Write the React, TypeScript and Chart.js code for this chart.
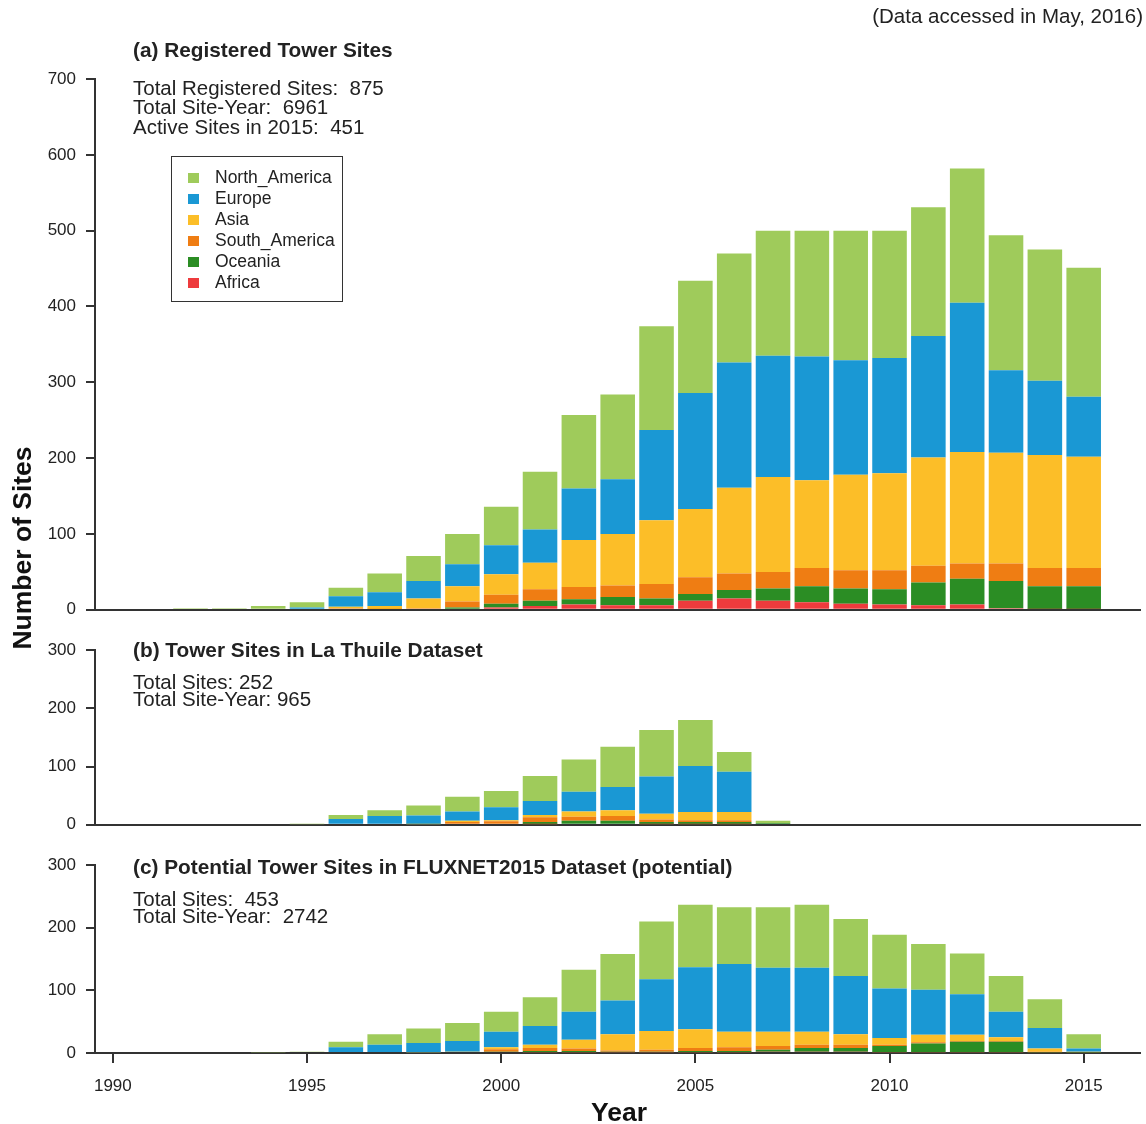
import React, { useEffect, useRef } from "react";
import { Chart, registerables } from "chart.js";

Chart.register(...registerables);

const FONT = '"Liberation Sans", Arial, Helvetica, sans-serif';

const YEARS = [1992, 1993, 1994, 1995, 1996, 1997, 1998, 1999, 2000, 2001, 2002, 2003, 2004, 2005, 2006, 2007, 2008, 2009, 2010, 2011, 2012, 2013, 2014, 2015];
const X_TICKS = [1990, 1995, 2000, 2005, 2010, 2015];
const X_MIN = 1989.54;
const X_MAX = 2016.45;

const REGIONS = ["North_America", "Europe", "Asia", "South_America", "Oceania", "Africa"];
const REGION_COLORS = ["#9fcb5b", "#1a98d4", "#fcbe28", "#ef7d13", "#2b8d24", "#ee3b3d"];

// (a) Registered Tower Sites
const A_NORTH_AMERICA = [2, 2, 5, 7, 11, 25, 33, 40, 51, 76, 97, 112, 137, 148, 144, 165, 166, 171, 168, 170, 177, 178, 173, 170];
const A_EUROPE = [0, 0, 0, 3, 14, 18, 23, 29, 38, 44, 68, 72, 119, 153, 165, 160, 163, 151, 152, 160, 197, 109, 98, 79];
const A_ASIA = [0, 0, 0, 0, 2, 4, 13, 20, 27, 35, 62, 68, 84, 90, 113, 125, 116, 126, 128, 143, 147, 146, 149, 147];
const A_SOUTH_AMERICA = [0, 0, 0, 0, 2, 1, 2, 8, 12, 15, 16, 15, 19, 22, 22, 22, 24, 24, 25, 22, 20, 23, 24, 24];
const A_OCEANIA = [0, 0, 0, 0, 0, 0, 0, 3, 5, 7, 7, 11, 9, 9, 11, 16, 21, 20, 20, 30, 34, 36, 30, 30];
const A_AFRICA = [0, 0, 0, 0, 0, 0, 0, 0, 3, 5, 7, 6, 6, 12, 15, 12, 10, 8, 7, 6, 7, 2, 1, 1];

// (b) Tower Sites in La Thuile Dataset
const B_NORTH_AMERICA = [0, 0, 0, 1, 7, 10, 17, 25, 28, 43, 55, 69, 80, 79, 34, 4, 0, 0, 0, 0, 0, 0, 0, 0];
const B_EUROPE = [0, 0, 0, 0, 10, 15, 15, 16, 22, 24, 34, 40, 64, 79, 69, 0, 0, 0, 0, 0, 0, 0, 0, 0];
const B_ASIA = [0, 0, 0, 0, 0, 0, 1, 2, 2, 4, 9, 10, 10, 14, 14, 0, 0, 0, 0, 0, 0, 0, 0, 0];
const B_SOUTH_AMERICA = [0, 0, 0, 0, 0, 0, 0, 3, 4, 8, 7, 8, 4, 3, 3, 0, 0, 0, 0, 0, 0, 0, 0, 0];
const B_OCEANIA = [0, 0, 0, 0, 0, 0, 0, 2, 2, 4, 5, 5, 4, 4, 4, 3, 0, 0, 0, 0, 0, 0, 0, 0];
const B_AFRICA = [0, 0, 0, 0, 0, 0, 0, 0, 0, 1, 2, 2, 1, 1, 1, 0, 0, 0, 0, 0, 0, 0, 0, 0];

// (c) Potential Tower Sites in FLUXNET2015 Dataset
const C_NORTH_AMERICA = [0, 0, 1, 2, 9, 17, 23, 29, 32, 46, 67, 74, 92, 100, 91, 97, 101, 91, 86, 73, 65, 57, 46, 23];
const C_EUROPE = [0, 0, 0, 0, 9, 13, 15, 17, 25, 30, 45, 54, 83, 99, 108, 102, 102, 93, 79, 72, 65, 41, 33, 5];
const C_ASIA = [0, 0, 0, 0, 0, 0, 1, 2, 3, 5, 14, 26, 30, 30, 25, 23, 21, 17, 11, 12, 10, 6, 5, 1];
const C_SOUTH_AMERICA = [0, 0, 0, 0, 0, 0, 0, 0, 4, 5, 4, 2, 3, 5, 6, 6, 5, 5, 2, 2, 1, 1, 1, 0];
const C_OCEANIA = [0, 0, 0, 0, 0, 0, 0, 0, 2, 2, 2, 1, 1, 2, 2, 3, 6, 6, 10, 14, 17, 17, 1, 1];
const C_AFRICA = [0, 0, 0, 0, 0, 0, 0, 0, 0, 1, 1, 1, 1, 1, 1, 2, 2, 2, 1, 1, 1, 1, 0, 0];

const A_Y_TICKS = [0, 100, 200, 300, 400, 500, 600, 700];
const BC_Y_TICKS = [0, 100, 200, 300];

const A_SERIES = [A_NORTH_AMERICA, A_EUROPE, A_ASIA, A_SOUTH_AMERICA, A_OCEANIA, A_AFRICA];
const B_SERIES = [B_NORTH_AMERICA, B_EUROPE, B_ASIA, B_SOUTH_AMERICA, B_OCEANIA, B_AFRICA];
const C_SERIES = [C_NORTH_AMERICA, C_EUROPE, C_ASIA, C_SOUTH_AMERICA, C_OCEANIA, C_AFRICA];

const AXIS_COLOR = "#333";
const TEXT_COLOR = "#222";

function buildConfig(series: number[][], yTicks: number[], padTop: number, xHeight: number, showX: boolean): any {
  const datasets = REGIONS.map((name, i) => ({
    label: name,
    data: YEARS.map((yr, j) => ({ x: yr, y: series[i][j] })),
    backgroundColor: REGION_COLORS[i],
    borderWidth: 0,
    barPercentage: 0.89,
    categoryPercentage: 1,
  })).reverse();
  return {
    type: "bar",
    data: { datasets },
    options: {
      animation: false,
      responsive: false,
      events: [],
      layout: { padding: { top: padTop, right: 6, left: 0, bottom: 0 } },
      plugins: { legend: { display: false }, tooltip: { enabled: false }, title: { display: false } },
      scales: {
        x: {
          type: "linear",
          stacked: true,
          offset: false,
          min: X_MIN,
          max: X_MAX,
          afterBuildTicks: (s: any) => {
            s.ticks = X_TICKS.map((v) => ({ value: v }));
          },
          afterFit: (s: any) => {
            s.height = xHeight;
          },
          grid: {
            display: showX,
            offset: false,
            drawOnChartArea: false,
            drawTicks: showX,
            tickLength: 10,
            color: AXIS_COLOR,
            lineWidth: 2,
          },
          border: { display: true, color: AXIS_COLOR, width: 2 },
          ticks: {
            display: showX,
            padding: 13,
            color: TEXT_COLOR,
            font: { family: FONT, size: 17 },
            maxRotation: 0,
            autoSkip: false,
            callback: (v: any) => String(v),
          },
        },
        y: {
          stacked: true,
          min: 0,
          max: yTicks[yTicks.length - 1],
          afterBuildTicks: (s: any) => {
            s.ticks = yTicks.map((v) => ({ value: v }));
          },
          afterFit: (s: any) => {
            s.width = 95;
          },
          grid: {
            drawOnChartArea: false,
            drawTicks: true,
            tickLength: 9,
            color: AXIS_COLOR,
            lineWidth: 2,
          },
          border: { display: true, color: AXIS_COLOR, width: 2 },
          ticks: {
            padding: 10,
            color: TEXT_COLOR,
            font: { family: FONT, size: 17 },
            callback: (v: any) => String(v),
          },
        },
      },
    },
  };
}

function Txt(props: { x: number; y: number; size: number; bold?: boolean; children: string; right?: boolean }) {
  const style: any = {
    position: "absolute",
    top: props.y - props.size * 0.5,
    fontSize: props.size,
    lineHeight: 1,
    fontFamily: FONT,
    fontWeight: props.bold ? "bold" : "normal",
    color: TEXT_COLOR,
    whiteSpace: "pre",
  };
  if (props.right) style.right = props.x;
  else style.left = props.x;
  return <div style={style}>{props.children}</div>;
}

export default function App() {
  const refA = useRef<HTMLCanvasElement>(null);
  const refB = useRef<HTMLCanvasElement>(null);
  const refC = useRef<HTMLCanvasElement>(null);

  useEffect(() => {
    const charts: Chart[] = [];
    if (refA.current) charts.push(new Chart(refA.current, buildConfig(A_SERIES, A_Y_TICKS, 79, 11, false)));
    if (refB.current) charts.push(new Chart(refB.current, buildConfig(B_SERIES, BC_Y_TICKS, 11, 8, false)));
    if (refC.current) charts.push(new Chart(refC.current, buildConfig(C_SERIES, BC_Y_TICKS, 13, 71, true)));
    return () => charts.forEach((c) => c.destroy());
  }, []);

  const titleSize = 20.8;
  const textSize = 20.5;

  return (
    <div style={{ position: "absolute", left: 0, top: 0, width: 1146, height: 1124, background: "#fff", overflow: "hidden", fontFamily: FONT }}>
      <canvas ref={refA} width={1146} height={630} style={{ position: "absolute", left: 0, top: 0 }} />
      <canvas ref={refB} width={1146} height={215} style={{ position: "absolute", left: 0, top: 630 }} />
      <canvas ref={refC} width={1146} height={279} style={{ position: "absolute", left: 0, top: 845 }} />

      <Txt x={3} y={16} size={textSize} right>(Data accessed in May, 2016)</Txt>

      <Txt x={133} y={50} size={titleSize} bold>(a) Registered Tower Sites</Txt>
      <Txt x={133} y={88} size={textSize}>{"Total Registered Sites:  875"}</Txt>
      <Txt x={133} y={107} size={textSize}>{"Total Site-Year:  6961"}</Txt>
      <Txt x={133} y={127} size={textSize}>{"Active Sites in 2015:  451"}</Txt>

      <div style={{ position: "absolute", left: 171, top: 156, width: 172, height: 146, border: "1.5px solid #333", boxSizing: "border-box" }}>
        {REGIONS.map((name, i) => (
          <div key={name} style={{ position: "absolute", left: 16, top: 21 + i * 21 - 9, height: 18, display: "flex", alignItems: "center" }}>
            <div style={{ width: 11, height: 10, background: REGION_COLORS[i] }} />
            <div style={{ marginLeft: 16, fontSize: 17.5, lineHeight: 1, color: TEXT_COLOR, fontFamily: FONT }}>{name}</div>
          </div>
        ))}
      </div>

      <Txt x={133} y={650} size={titleSize} bold>(b) Tower Sites in La Thuile Dataset</Txt>
      <Txt x={133} y={682} size={textSize}>{"Total Sites: 252"}</Txt>
      <Txt x={133} y={699} size={textSize}>{"Total Site-Year: 965"}</Txt>

      <Txt x={133} y={867} size={titleSize} bold>(c) Potential Tower Sites in FLUXNET2015 Dataset (potential)</Txt>
      <Txt x={133} y={899} size={textSize}>{"Total Sites:  453"}</Txt>
      <Txt x={133} y={916} size={textSize}>{"Total Site-Year:  2742"}</Txt>

      <div
        style={{
          position: "absolute",
          left: 22 - 150,
          top: 548 - 16,
          width: 300,
          height: 32,
          lineHeight: "32px",
          textAlign: "center",
          transform: "rotate(-90deg)",
          fontSize: 26.5,
          fontWeight: "bold",
          color: "#111",
          fontFamily: FONT,
        }}
      >
        Number of Sites
      </div>
      <div
        style={{
          position: "absolute",
          left: 619 - 100,
          top: 1112 - 16,
          width: 200,
          height: 32,
          lineHeight: "32px",
          textAlign: "center",
          fontSize: 26.5,
          fontWeight: "bold",
          color: "#111",
          fontFamily: FONT,
        }}
      >
        Year
      </div>
    </div>
  );
}
